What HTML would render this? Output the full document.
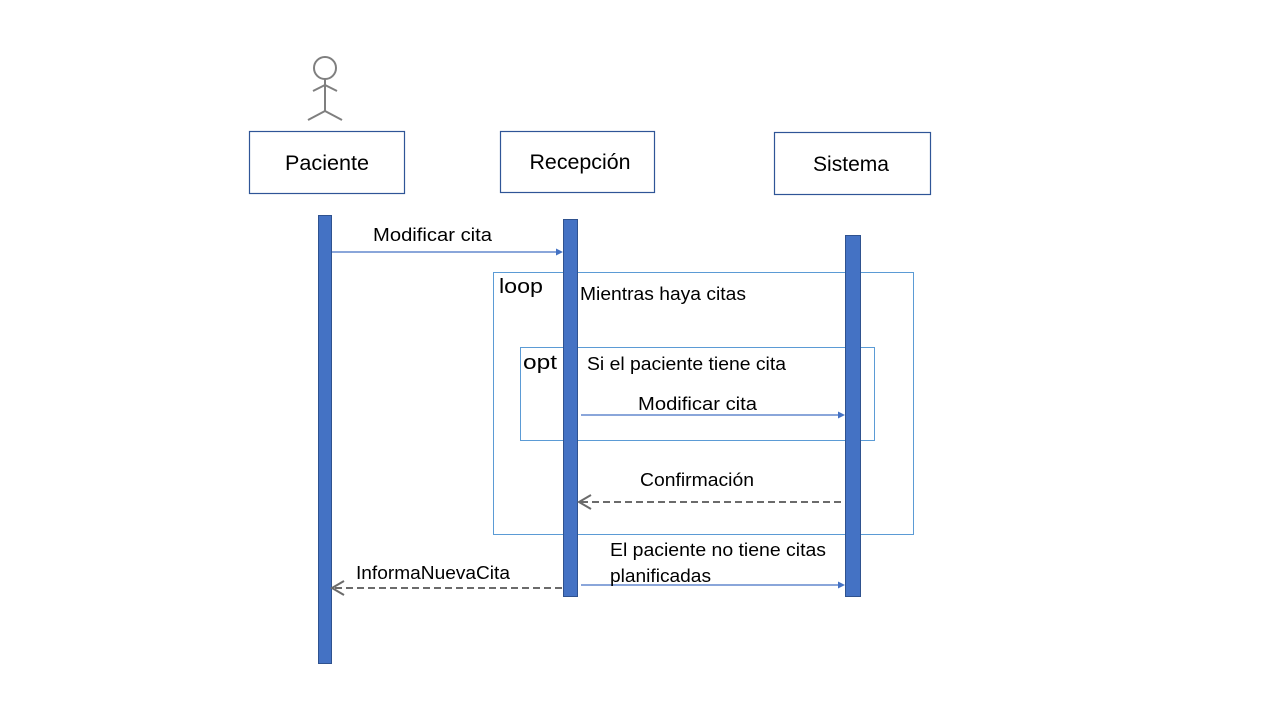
<!DOCTYPE html>
<html><head><meta charset="utf-8"><style>html,body{margin:0;padding:0;background:#fff;}svg{display:block}</style></head>
<body>
<svg width="1280" height="720" viewBox="0 0 1280 720" xmlns="http://www.w3.org/2000/svg" font-family="Liberation Sans, sans-serif">
<rect width="1280" height="720" fill="#fff"/>
<g stroke="#7f7f7f" stroke-width="2" fill="none">
<circle cx="325" cy="68" r="11"/>
<line x1="325" y1="79" x2="325" y2="111"/>
<line x1="313" y1="91" x2="325" y2="85"/>
<line x1="337" y1="91" x2="325" y2="85"/>
<line x1="308" y1="120" x2="325" y2="111"/>
<line x1="342" y1="120" x2="325" y2="111"/>
</g>
<g fill="#fff" stroke="#2F5597" stroke-width="1.2">
<rect x="249.5" y="131.5" width="155" height="62"/>
<rect x="500.5" y="131.5" width="154" height="61"/>
<rect x="774.5" y="132.5" width="156" height="62"/>
</g>
<g font-size="21" fill="#000">
<text x="327" y="170" text-anchor="middle" textLength="84" lengthAdjust="spacingAndGlyphs">Paciente</text>
<text x="580" y="169" text-anchor="middle" textLength="101" lengthAdjust="spacingAndGlyphs">Recepción</text>
<text x="851" y="171" text-anchor="middle" textLength="76" lengthAdjust="spacingAndGlyphs">Sistema</text>
</g>
<g fill="none" stroke="#5B9BD5" stroke-width="1">
<rect x="493.5" y="272.5" width="420" height="262"/>
<rect x="520.5" y="347.5" width="354" height="93"/>
</g>
<g fill="#4472C4" stroke="#2F528F" stroke-width="1">
<rect x="318.5" y="215.5" width="13" height="448"/>
<rect x="563.5" y="219.5" width="14" height="377"/>
<rect x="845.5" y="235.5" width="15" height="361"/>
</g>
<g stroke="#4472C4" stroke-width="1.2" fill="#4472C4">
<line x1="332" y1="252" x2="560" y2="252"/><polygon points="563,252 556,248.5 556,255.5" stroke="none"/>
<line x1="581" y1="415" x2="842" y2="415"/><polygon points="845,415 838,411.5 838,418.5" stroke="none"/>
<line x1="581" y1="585" x2="842" y2="585"/><polygon points="845,585 838,581.5 838,588.5" stroke="none"/>
</g>
<g stroke="#6b6b6b" stroke-width="2" fill="none">
<line x1="841" y1="502" x2="580" y2="502" stroke-dasharray="7,4"/>
<polyline points="591,495 579,502 591,509"/>
<line x1="562" y1="588" x2="333" y2="588" stroke-dasharray="7,4"/>
<polyline points="344,581 332,588 344,595"/>
</g>
<g font-size="18" fill="#000">
<text x="373" y="241" textLength="119" lengthAdjust="spacingAndGlyphs">Modificar cita</text>
<text x="499" y="293" font-size="20" textLength="44" lengthAdjust="spacingAndGlyphs">loop</text>
<text x="580" y="300" textLength="166" lengthAdjust="spacingAndGlyphs">Mientras haya citas</text>
<text x="523" y="369" font-size="20" textLength="34" lengthAdjust="spacingAndGlyphs">opt</text>
<text x="587" y="370" textLength="199" lengthAdjust="spacingAndGlyphs">Si el paciente tiene cita</text>
<text x="638" y="410" textLength="119" lengthAdjust="spacingAndGlyphs">Modificar cita</text>
<text x="640" y="486" textLength="114" lengthAdjust="spacingAndGlyphs">Confirmación</text>
<text x="610" y="556" textLength="216" lengthAdjust="spacingAndGlyphs">El paciente no tiene citas</text>
<text x="610" y="582" textLength="101" lengthAdjust="spacingAndGlyphs">planificadas</text>
<text x="356" y="579" textLength="154" lengthAdjust="spacingAndGlyphs">InformaNuevaCita</text>
</g>
</svg>
</body></html>
